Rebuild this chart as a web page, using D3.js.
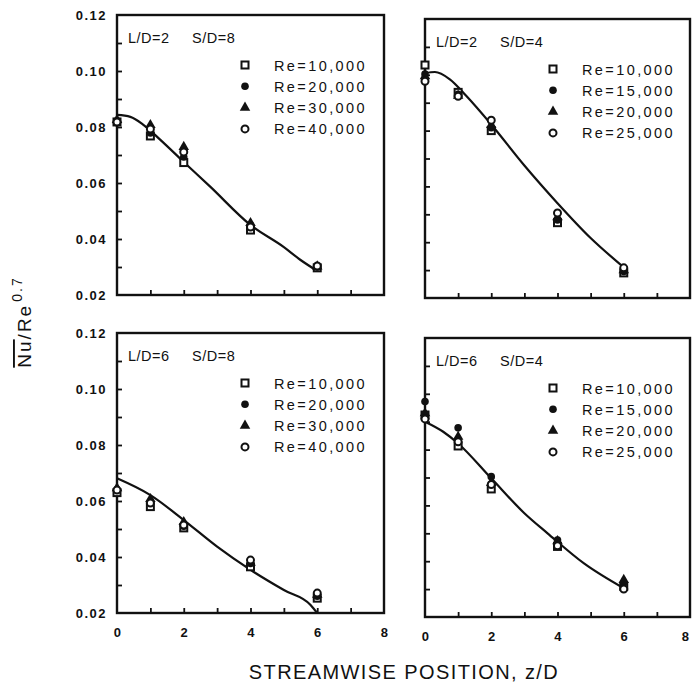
<!DOCTYPE html>
<html>
<head>
<meta charset="utf-8">
<script src="https://cdn.jsdelivr.net/npm/d3@7"></script>
<style>
  body { margin: 0; background: #fff; }
  svg { display: block; font-family: "Liberation Sans", Arial, sans-serif; }
  .tick-label { font-size: 13px; font-weight: bold; letter-spacing: 1.5px; fill: #111; }
  .legend-text { font-size: 14.5px; letter-spacing: 2.4px; fill: #111; }
  .panel-label { font-size: 14.5px; letter-spacing: 0.5px; fill: #111; }
</style>
</head>
<body>
<div id="chart"></div>
<script>
// stations along the channel (z/D) where the data were taken
const stations = [0, 1, 2, 4, 6];
const xTickValues = [0, 2, 4, 6, 8];
const yTickValues = [0.02, 0.04, 0.06, 0.08, 0.10, 0.12];
const reLabelsS8 = ['Re=10,000', 'Re=20,000', 'Re=30,000', 'Re=40,000'];
const reLabelsS4 = ['Re=10,000', 'Re=15,000', 'Re=20,000', 'Re=25,000'];

// L/D=2  S/D=8
const tlSquare = [0.0818, 0.0768, 0.0673, 0.0432, 0.0297];
const tlDot = [0.0822, 0.0779, 0.0693, 0.0450, 0.0300];
const tlTriangle = [0.0825, 0.0807, 0.0729, 0.0457, 0.0302];
const tlCircle = [0.0818, 0.0793, 0.0711, 0.0443, 0.0304];
const tlCurveZ = [0, 0.4, 0.8, 1.3, 2, 2.8, 4, 5, 5.5, 6];
const tlCurveV = [0.0843, 0.0836, 0.0807, 0.0754, 0.0675, 0.0586, 0.0450, 0.0371, 0.0325, 0.0286];

// L/D=2  S/D=4
const trSquare = [0.1035, 0.0937, 0.0800, 0.0470, 0.0290];
const trDot = [0.1003, 0.0930, 0.0810, 0.0480, 0.0295];
const trTriangle = [0.0995, 0.0925, 0.0820, 0.0490, 0.0300];
const trCircle = [0.0977, 0.0923, 0.0837, 0.0505, 0.0308];
const trCurveZ = [0, 0.3, 0.75, 1.25, 2, 3, 4, 5, 6];
const trCurveV = [0.1006, 0.1010, 0.0984, 0.0924, 0.0822, 0.0675, 0.0540, 0.0415, 0.0310];

// L/D=6  S/D=8
const blSquare = [0.0630, 0.0580, 0.0504, 0.0365, 0.0253];
const blDot = [0.0640, 0.0596, 0.0510, 0.0377, 0.0260];
const blTriangle = [0.0646, 0.0607, 0.0525, 0.0380, 0.0265];
const blCircle = [0.0639, 0.0593, 0.0514, 0.0389, 0.0271];
const blCurveZ = [0, 1, 2, 3, 4, 5, 5.8, 6];
const blCurveV = [0.0681, 0.0621, 0.0532, 0.0437, 0.0354, 0.0282, 0.0229, 0.0200];

// L/D=6  S/D=4
const brSquare = [0.0924, 0.0813, 0.0659, 0.0453, 0.0310];
const brDot = [0.0972, 0.0878, 0.0703, 0.0476, 0.0322];
const brTriangle = [0.0930, 0.0846, 0.0680, 0.0472, 0.0333];
const brCircle = [0.0910, 0.0828, 0.0675, 0.0455, 0.0300];
const brCurveZ = [0, 0.55, 1, 2, 3, 3.7, 4.8, 6];
const brCurveV = [0.0900, 0.0864, 0.0822, 0.0697, 0.0572, 0.0500, 0.0392, 0.0303];

const width = 692, height = 688;
const ink = '#111';

const svg = d3.select('#chart')
    .append('svg')
    .attr('width', width)
    .attr('height', height);

// panel frames (the scan is slightly skewed, so right panels sit a bit lower)
const panels = [
    {left: 117, top: 15, w: 267, h: 280, ld: 'L/D=2', sd: 'S/D=8', legend: reLabelsS8,
     series: [tlSquare, tlDot, tlTriangle, tlCircle], curveZ: tlCurveZ, curveV: tlCurveV, yLabels: true, xLabels: false},
    {left: 425, top: 19, w: 265, h: 279, ld: 'L/D=2', sd: 'S/D=4', legend: reLabelsS4,
     series: [trSquare, trDot, trTriangle, trCircle], curveZ: trCurveZ, curveV: trCurveV, yLabels: false, xLabels: false},
    {left: 117, top: 333, w: 267, h: 280, ld: 'L/D=6', sd: 'S/D=8', legend: reLabelsS8,
     series: [blSquare, blDot, blTriangle, blCircle], curveZ: blCurveZ, curveV: blCurveV, yLabels: true, xLabels: true},
    {left: 425, top: 338, w: 265, h: 279, ld: 'L/D=6', sd: 'S/D=4', legend: reLabelsS4,
     series: [brSquare, brDot, brTriangle, brCircle], curveZ: brCurveZ, curveV: brCurveV, yLabels: false, xLabels: true}
];

const shapes = ['square', 'dot', 'triangle', 'circle'];

function drawMarker(g, shape, x, y) {
    if (shape === 'square') {
        g.append('rect')
            .attr('x', x - 3.5).attr('y', y - 3.5)
            .attr('width', 7).attr('height', 7)
            .attr('fill', '#fff').attr('stroke', ink).attr('stroke-width', 2);
    } else if (shape === 'dot') {
        g.append('circle')
            .attr('cx', x).attr('cy', y).attr('r', 3.8)
            .attr('fill', ink);
    } else if (shape === 'triangle') {
        g.append('path')
            .attr('d', d3.symbol().type(d3.symbolTriangle).size(48)())
            .attr('transform', 'translate(' + x + ',' + y + ')')
            .attr('fill', ink);
    } else {
        g.append('circle')
            .attr('cx', x).attr('cy', y).attr('r', 3.5)
            .attr('fill', '#fff').attr('stroke', ink).attr('stroke-width', 2);
    }
}

panels.forEach(function(p) {
    const g = svg.append('g')
        .attr('transform', 'translate(' + p.left + ',' + p.top + ')');

    const xScale = d3.scaleLinear().domain([0, 8]).range([0, p.w]);
    const yScale = d3.scaleLinear().domain([0.02, 0.12]).range([p.h, 0]);

    // frame
    g.append('rect')
        .attr('width', p.w).attr('height', p.h)
        .attr('fill', 'none').attr('stroke', ink).attr('stroke-width', 2.4);

    // inward ticks on left and bottom
    const yAxis = d3.axisRight(yScale)
        .tickValues(d3.range(0.03, 0.12, 0.01))
        .tickSize(5).tickFormat('');
    g.append('g').attr('class', 'y-axis').call(yAxis);

    const xAxis = d3.axisTop(xScale)
        .tickValues(d3.range(1, 8, 1))
        .tickSize(5).tickFormat('');
    g.append('g').attr('class', 'x-axis')
        .attr('transform', 'translate(0,' + p.h + ')')
        .call(xAxis);

    g.selectAll('.domain').remove();
    g.selectAll('.tick line').attr('stroke', ink).attr('stroke-width', 1.8);

    if (p.yLabels) {
        g.selectAll('.ylab')
            .data(yTickValues)
            .enter()
            .append('text')
            .attr('class', 'tick-label')
            .attr('x', -10)
            .attr('y', d => yScale(d) + 4.5)
            .attr('text-anchor', 'end')
            .text(d => d3.format('.2f')(d));
    }

    if (p.xLabels) {
        g.selectAll('.xlab')
            .data(xTickValues)
            .enter()
            .append('text')
            .attr('class', 'tick-label')
            // last label sits on the page edge, nudge it inside
            .attr('x', d => Math.min(xScale(d) + 1, width - p.left - 6))
            .attr('y', p.h + 24)
            .attr('text-anchor', 'middle')
            .text(d => d);
    }

    // correlation curve
    const curveData = p.curveZ.map((z, i) => [z, p.curveV[i]]);
    const line = d3.line()
        .x(d => xScale(d[0]))
        .y(d => yScale(d[1]))
        .curve(d3.curveMonotoneX);
    g.append('path')
        .datum(curveData)
        .attr('d', line)
        .attr('fill', 'none')
        .attr('stroke', ink)
        .attr('stroke-width', 2.2);

    // data points
    p.series.forEach(function(vals, si) {
        vals.forEach(function(v, i) {
            drawMarker(g, shapes[si], xScale(stations[i]), yScale(v));
        });
    });

    // panel label
    g.append('text').attr('class', 'panel-label')
        .attr('x', 11).attr('y', 28).text(p.ld);
    g.append('text').attr('class', 'panel-label')
        .attr('x', 75).attr('y', 28).text(p.sd);

    // legend
    p.legend.forEach(function(label, i) {
        const ly = 50 + i * 21.3;
        drawMarker(g, shapes[i], 128, ly);
        g.append('text').attr('class', 'legend-text')
            .attr('x', 157).attr('y', ly + 5.5)
            .text(label);
    });
});

// axis titles
const yTitle = svg.append('text')
    .attr('transform', 'translate(31,322) rotate(-90)')
    .attr('text-anchor', 'middle')
    .attr('fill', ink)
    .style('font-size', '19px')
    .style('letter-spacing', '2px');
yTitle.append('tspan')
    .style('text-decoration', 'overline')
    .text('Nu');
yTitle.append('tspan').text('/Re');
yTitle.append('tspan')
    .attr('dy', -9)
    .attr('dx', 2)
    .style('font-size', '14px')
    .text('0.7');

svg.append('text')
    .attr('x', 404)
    .attr('y', 679)
    .attr('text-anchor', 'middle')
    .attr('fill', ink)
    .style('font-size', '20px')
    .style('letter-spacing', '1.4px')
    .text('STREAMWISE POSITION, z/D');
</script>
</body>
</html>
